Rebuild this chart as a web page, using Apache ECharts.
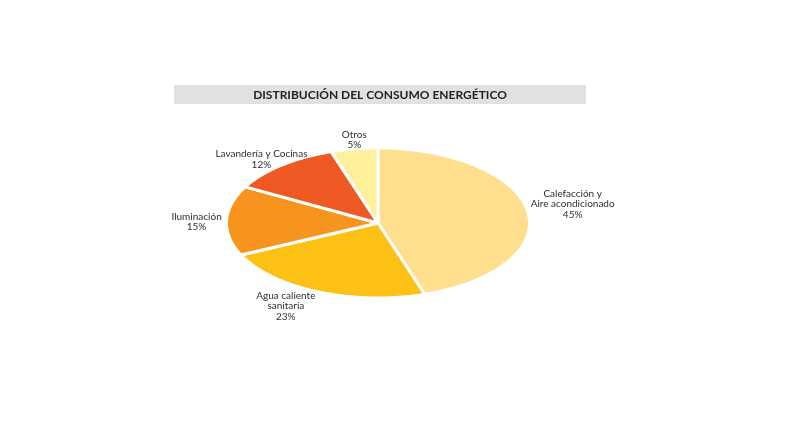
<!DOCTYPE html>
<html>
<head>
<meta charset="utf-8">
<script src="https://cdn.jsdelivr.net/npm/echarts@6/dist/echarts.min.js"></script>
<style>
html,body{margin:0;padding:0;background:#fff;}
#chart{width:786px;height:430px;}
</style>
</head>
<body>
<div id="chart"></div>
<script>
// Data
var titleText = 'DISTRIBUCIÓN DEL CONSUMO ENERGÉTICO';
var categories = ['Calefacción y\nAire acondicionado', 'Agua caliente\nsanitaria', 'Iluminación', 'Lavandería y Cocinas', 'Otros'];
var values = [45, 23, 15, 12, 5];
var colors = ['#FFDF8E', '#FDC014', '#F7941E', '#EF5A24', '#FFF09B'];

// Layout (not data)
var CX = 378, CY = 223, RX = 151.5, RY = 75;
var labelShift = [[45, -7], [-32, 14], [-30, 1], [-20, -6], [0, -9]];

var total = values.reduce(function (a, b) { return a + b; }, 0);
var starts = [];
(function () { var acc = 0; values.forEach(function (v) { starts.push(acc); acc += v; }); })();

function pt(theta, sx, sy) {
  return [CX + sx * Math.sin(theta), CY - sy * Math.cos(theta)];
}

var chart = echarts.init(document.getElementById('chart'), null, { renderer: 'canvas' });
chart.setOption({
  backgroundColor: '#fff',
  animation: false,
  graphic: [{
    type: 'rect', left: 174, top: 85, z: 0,
    shape: { width: 412, height: 19 },
    style: { fill: '#E1E1E1' }
  }, {
    type: 'text', x: 380, y: 95, z: 1,
    style: {
      text: titleText, align: 'center', verticalAlign: 'middle',
      fontFamily: 'Lato', fontWeight: 'bold', fontSize: 12, fill: '#222'
    }
  }],
  series: [{
    type: 'custom',
    coordinateSystem: 'none',
    data: values.map(function (v, i) { return { value: v, name: categories[i] }; }),
    renderItem: function (params, api) {
      var i = params.dataIndex;
      var v = api.value(0);
      var a0 = starts[i] / total * Math.PI * 2;
      var a1 = (starts[i] + v) / total * Math.PI * 2;
      var n = Math.max(8, Math.ceil((a1 - a0) / 0.01));
      var pts = [[CX, CY]];
      for (var k = 0; k <= n; k++) {
        pts.push(pt(a0 + (a1 - a0) * k / n, RX, RY));
      }
      var mid = (a0 + a1) / 2;
      var lp = pt(mid, RX, RY);
      var sh = labelShift[i];
      return {
        type: 'group',
        children: [{
          type: 'polygon',
          shape: { points: pts },
          style: { fill: colors[i], stroke: '#fff', lineWidth: 3, lineJoin: 'round' }
        }, {
          type: 'text',
          z2: 10,
          style: {
            text: categories[i] + '\n' + v + '%',
            x: lp[0] + sh[0], y: lp[1] + sh[1],
            align: 'center', verticalAlign: 'middle',
            fontFamily: 'Lato', fontSize: 10, lineHeight: 10.5,
            fill: '#2e2e2e'
          }
        }]
      };
    }
  }]
});
</script>
</body>
</html>
